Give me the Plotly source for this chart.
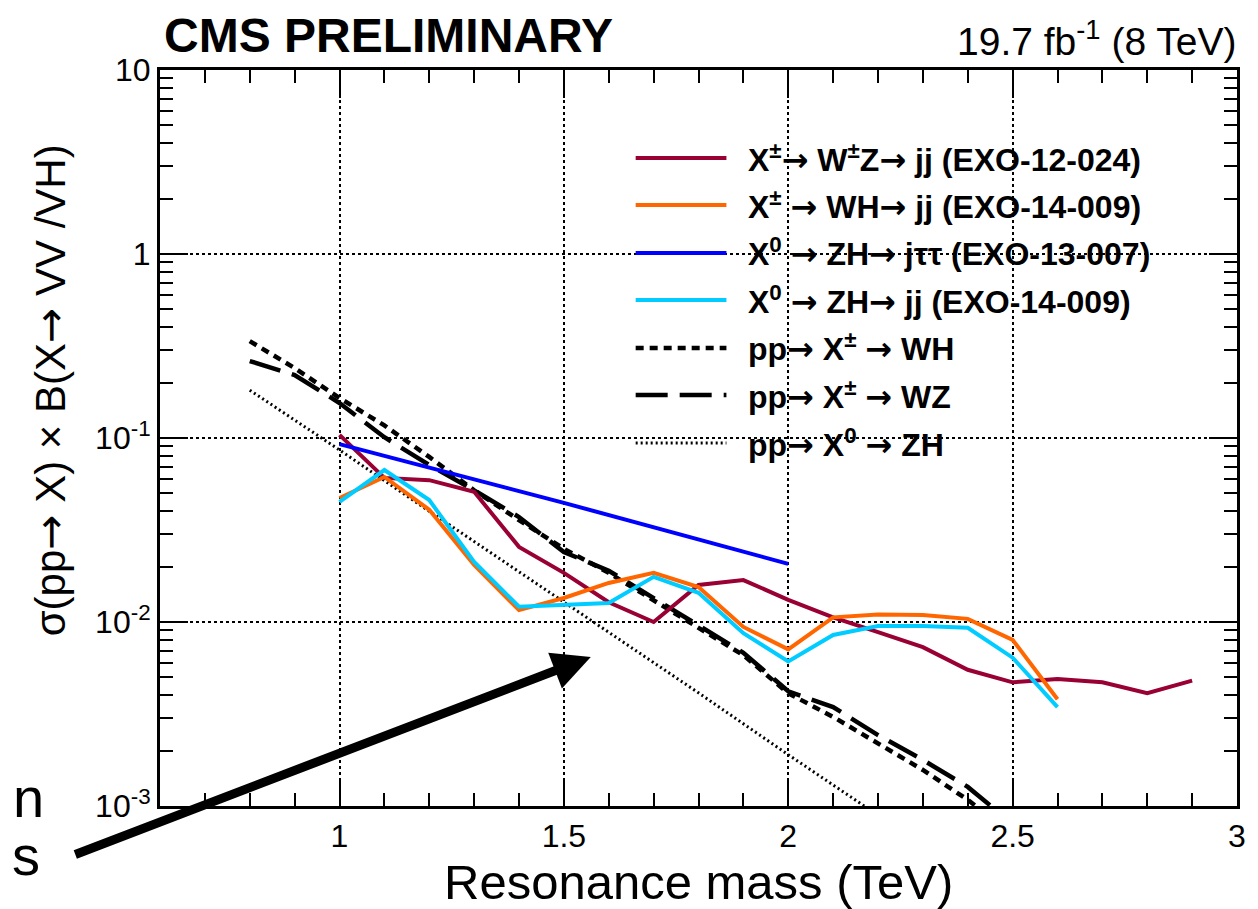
import plotly.graph_objects as go

# ---------------- data ----------------
mass_wz_jj = [1.0, 1.1, 1.2, 1.3, 1.4, 1.5, 1.6, 1.7, 1.8, 1.9, 2.0, 2.1, 2.2, 2.3, 2.4, 2.5, 2.6, 2.7, 2.8, 2.9]
xs_wz_jj = [0.104, 0.0607, 0.059, 0.051, 0.0256, 0.0185, 0.0128, 0.0100, 0.0159, 0.0169, 0.0132, 0.0106,
            0.0088, 0.0073, 0.0055, 0.0047, 0.0049, 0.0047, 0.0041, 0.0048]

mass_vh_jj = [1.0, 1.1, 1.2, 1.3, 1.4, 1.5, 1.6, 1.7, 1.8, 1.9, 2.0, 2.1, 2.2, 2.3, 2.4, 2.5, 2.6]
xs_wh_jj = [0.0472, 0.0614, 0.0407, 0.0204, 0.0116, 0.0135, 0.0163, 0.0185, 0.0155, 0.0094, 0.0071, 0.0106,
            0.0110, 0.0109, 0.0104, 0.0080, 0.0038]
xs_zh_jj = [0.0449, 0.067, 0.046, 0.0212, 0.0121, 0.0124, 0.0127, 0.0176, 0.0144, 0.0087, 0.0061, 0.0085,
            0.0095, 0.0095, 0.0093, 0.0064, 0.00345]

mass_zh_jtt = [1.0, 1.5, 2.0]
xs_zh_jtt = [0.0927, 0.0444, 0.0207]

mass_th_wz = [0.8, 0.9, 1.0, 1.1, 1.2, 1.3, 1.4, 1.5, 1.6, 1.7, 1.8, 1.9, 2.0, 2.1, 2.2, 2.3, 2.4, 2.5]
xs_th_wz = [0.262, 0.22, 0.155, 0.101, 0.0713, 0.052, 0.0372, 0.024, 0.019, 0.0135, 0.0095, 0.0068,
            0.0042, 0.00345, 0.00243, 0.00178, 0.00127, 0.0008]

mass_th_wh = [0.8, 0.9, 1.0, 1.1, 1.2, 1.3, 1.4, 1.5, 1.6, 1.7, 1.8, 1.9, 2.0, 2.1, 2.2, 2.3, 2.4, 2.5]
xs_th_wh = [0.336, 0.24, 0.165, 0.117, 0.0789, 0.052, 0.0358, 0.025, 0.0185, 0.0132, 0.0093, 0.0066,
            0.0041, 0.00305, 0.0022, 0.00157, 0.00108, 0.0007]

mass_th_zh = [0.8, 0.9, 1.0, 1.2, 1.4, 1.6, 1.8, 2.0, 2.2]
xs_th_zh = [0.182, 0.125, 0.0861, 0.0400, 0.0188, 0.00883, 0.00412, 0.00190, 0.00089]

x_tickvals = [1, 1.5, 2, 2.5, 3]
x_ticktext = ["1", "1.5", "2", "2.5", "3"]
y_tickvals = [0.001, 0.01, 0.1, 1, 10]
y_ticktext = ["10<sup>-3</sup>", "10<sup>-2</sup>", "10<sup>-1</sup>", "1", "10"]

ARW = '<span style="font-family:DejaVu Sans">→</span>'

legend_labels = [
    "X<sup>±</sup>" + ARW + " W<sup>±</sup>Z" + ARW + " jj (EXO-12-024)",
    "X<sup>±</sup> " + ARW + " WH" + ARW + " jj (EXO-14-009)",
    "X<sup>0</sup> " + ARW + " ZH" + ARW + " jττ (EXO-13-007)",
    "X<sup>0</sup> " + ARW + " ZH" + ARW + " jj (EXO-14-009)",
    "pp" + ARW + " X<sup>±</sup> " + ARW + " WH",
    "pp" + ARW + " X<sup>±</sup> " + ARW + " WZ",
    "pp" + ARW + " X<sup>0</sup> " + ARW + " ZH",
]

# ---------------- styles ----------------
MAROON = "#990033"
ORANGE = "#FF6600"
BLUE = "#0000FF"
CYAN = "#00CCFF"
FONT = "Liberation Sans, Arial, Helvetica, sans-serif"

styles = [
    dict(color=MAROON, width=4, dash="solid"),
    dict(color=ORANGE, width=4, dash="solid"),
    dict(color=BLUE, width=4, dash="solid"),
    dict(color=CYAN, width=4, dash="solid"),
    dict(color="black", width=4.5, dash="8px,6px"),
    dict(color="black", width=4.5, dash="32px,12px"),
    dict(color="black", width=3, dash="2px,3px"),
]

fig = go.Figure()

series = [
    (mass_th_zh, xs_th_zh, 6),
    (mass_th_wh, xs_th_wh, 4),
    (mass_th_wz, xs_th_wz, 5),
    (mass_wz_jj, xs_wz_jj, 0),
    (mass_vh_jj, xs_wh_jj, 1),
    (mass_zh_jtt, xs_zh_jtt, 2),
    (mass_vh_jj, xs_zh_jj, 3),
]
for xv, yv, si in series:
    fig.add_trace(go.Scatter(x=xv, y=yv, mode="lines", line=styles[si],
                             name=legend_labels[si], showlegend=False, hoverinfo="skip"))

# ---------------- plot geometry ----------------
W, H = 1258, 909
L, R, T, B = 160, 18, 70, 103
PW, PH = W - L - R, H - T - B


def px(xp):
    return (xp - L) / PW


def py(yp):
    return (H - B - yp) / PH


x_minor = [round(0.6 + 0.1 * i, 1) for i in range(1, 24)]
x_minor = [v for v in x_minor if v not in x_tickvals]
y_minor = [m * 10 ** e for e in range(-3, 1) for m in range(2, 10)]

fig.update_layout(
    width=W, height=H,
    margin=dict(l=L, r=R, t=T, b=B),
    paper_bgcolor="white", plot_bgcolor="white",
    font=dict(family=FONT, color="black"),
    showlegend=False,
    xaxis=dict(
        range=[0.6, 3.0], tickvals=x_tickvals, ticktext=x_ticktext,
        ticks="inside", ticklen=28, tickwidth=2, tickcolor="black",
        showline=True, linewidth=3, linecolor="black", mirror="ticks",
        showgrid=True, gridcolor="black", griddash="dot", gridwidth=1.5,
        zeroline=False, tickfont=dict(size=32, family=FONT),
        minor=dict(tickvals=x_minor, ticks="inside", ticklen=13, tickwidth=2, tickcolor="black", showgrid=False),
    ),
    yaxis=dict(
        type="log", range=[-3, 1], tickvals=y_tickvals, ticktext=y_ticktext,
        ticks="inside", ticklen=28, tickwidth=2, tickcolor="black",
        showline=True, linewidth=3, linecolor="black", mirror="ticks",
        showgrid=True, gridcolor="black", griddash="dot", gridwidth=1.5,
        zeroline=False, tickfont=dict(size=32, family=FONT),
        minor=dict(tickvals=y_minor, ticks="inside", ticklen=13, tickwidth=2, tickcolor="black", showgrid=False),
    ),
)

annotations = []
shapes = []

# legend (manual)
row_y = [158, 205, 253, 300, 348, 395, 443]
for i, lab in enumerate(legend_labels):
    st = styles[i]
    shapes.append(dict(type="line", xref="paper", yref="paper",
                       x0=px(637), x1=px(728), y0=py(row_y[i]), y1=py(row_y[i]),
                       line=dict(color=st["color"], width=st["width"], dash=st["dash"])))
    annotations.append(dict(xref="paper", yref="paper", x=px(748), y=py(row_y[i]),
                            xanchor="left", yanchor="middle", showarrow=False,
                            text=lab, font=dict(size=32, family=FONT, weight="bold", color="black")))

# titles
annotations.append(dict(xref="paper", yref="paper", x=px(162), y=py(36), xanchor="left", yanchor="middle",
                        showarrow=False, text="CMS PRELIMINARY",
                        font=dict(size=48, family=FONT, weight="bold")))
annotations.append(dict(xref="paper", yref="paper", x=px(1241), y=py(38), xanchor="right", yanchor="middle",
                        showarrow=False, text="19.7 fb<sup>-1</sup> (8 TeV)",
                        font=dict(size=39, family=FONT)))
annotations.append(dict(xref="paper", yref="paper", x=px(700), y=py(882), xanchor="center", yanchor="middle",
                        showarrow=False, text="Resonance mass (TeV)",
                        font=dict(size=49, family=FONT)))
annotations.append(dict(xref="paper", yref="paper", x=px(50), y=py(390), xanchor="center", yanchor="middle",
                        showarrow=False, textangle=-90,
                        text="σ(pp" + ARW + " X) × B(X" + ARW + " VV /VH)",
                        font=dict(size=42, family=FONT)))

# cut-off slide text at the left edge
annotations.append(dict(xref="paper", yref="paper", x=px(46), y=py(797), xanchor="right", yanchor="middle",
                        showarrow=False, text="n", font=dict(size=56, family=FONT)))
annotations.append(dict(xref="paper", yref="paper", x=px(42), y=py(856), xanchor="right", yanchor="middle",
                        showarrow=False, text="s", font=dict(size=56, family=FONT)))

# big arrow
annotations.append(dict(xref="paper", yref="paper", x=px(592), y=py(657), text="",
                        showarrow=True, arrowhead=2, arrowsize=0.85, arrowwidth=9, arrowcolor="black",
                        ax=75 - 592, ay=855 - 657, standoff=0))

fig.update_layout(annotations=annotations, shapes=shapes)

fig.write_html("out.html")
